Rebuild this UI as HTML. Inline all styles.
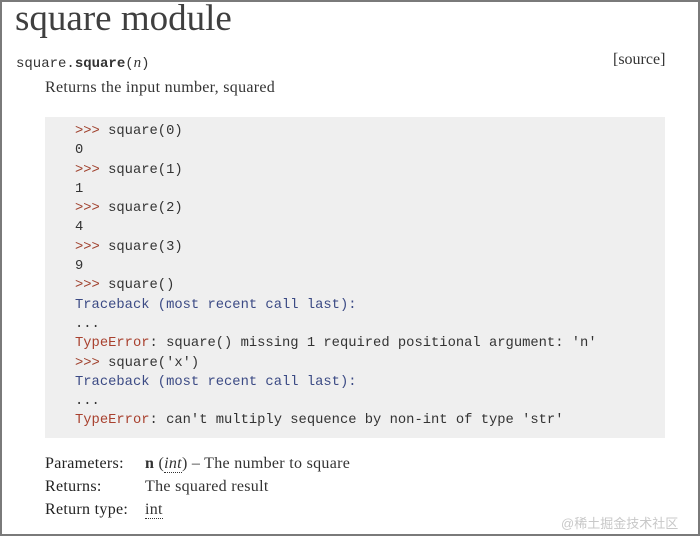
<!DOCTYPE html>
<html><head><meta charset="utf-8"><style>
html,body{margin:0;padding:0;}
body{width:700px;height:536px;position:relative;background:#fff;overflow:hidden;font-family:"Liberation Serif",serif;color:#3e3e3e;}
.frame{position:absolute;left:0;top:0;width:696px;height:532px;border:2px solid #7a7a7a;}
.a{position:absolute;white-space:pre;}
.m{font-family:"Liberation Mono",monospace;font-size:13.8px;color:#333;}
.p{color:#a0412d;}
.t{color:#3b4a84;}
.e{color:#a8402e;}
.s{font-size:16px;letter-spacing:0.3px;color:#333;}
.u{border-bottom:1px dotted #333;}
</style></head><body>
<div class="frame"></div>
<div class="a" style="left:15px;top:-3px;font-size:37px;color:#3f3f3f;">square module</div>
<div class="a m" style="left:16px;top:55px;font-size:14px;color:#333;">square.<b>square</b>(<i style="font-family:'Liberation Serif',serif;font-size:15px">n</i>)</div>
<div class="a s" style="left:613px;top:51px;letter-spacing:0">[source]</div>
<div class="a s" style="left:45px;top:79px;">Returns the input number, squared</div>
<div class="a" style="left:45px;top:117px;width:620px;height:321px;background:#efefef;"></div>
<div class="a m" style="left:75px;top:122px;line-height:19.3px;"><span class="p">&gt;&gt;&gt;</span> square(0)
0
<span class="p">&gt;&gt;&gt;</span> square(1)
1
<span class="p">&gt;&gt;&gt;</span> square(2)
4
<span class="p">&gt;&gt;&gt;</span> square(3)
9
<span class="p">&gt;&gt;&gt;</span> square()
<span class="t">Traceback (most recent call last):</span>
...
<span class="e">TypeError</span>: square() missing 1 required positional argument: 'n'
<span class="p">&gt;&gt;&gt;</span> square('x')
<span class="t">Traceback (most recent call last):</span>
...
<span class="e">TypeError</span>: can't multiply sequence by non-int of type 'str'</div>
<div class="a s" style="left:45px;top:455px;color:#222">Parameters:</div>
<div class="a s" style="left:145px;top:455px;"><b>n</b> (<i class="u">int</i>) – The number to square</div>
<div class="a s" style="left:45px;top:478px;color:#222">Returns:</div>
<div class="a s" style="left:145px;top:478px;">The squared result</div>
<div class="a s" style="left:45px;top:501px;color:#222">Return type:</div>
<div class="a s" style="left:145px;top:501px;"><span class="u">int</span></div>
<div class="a" style="left:561px;top:513px;font-size:13px;color:#c8c8c8;font-family:'Liberation Sans','Noto Sans CJK SC',sans-serif;">@稀土掘金技术社区</div>
</body></html>
